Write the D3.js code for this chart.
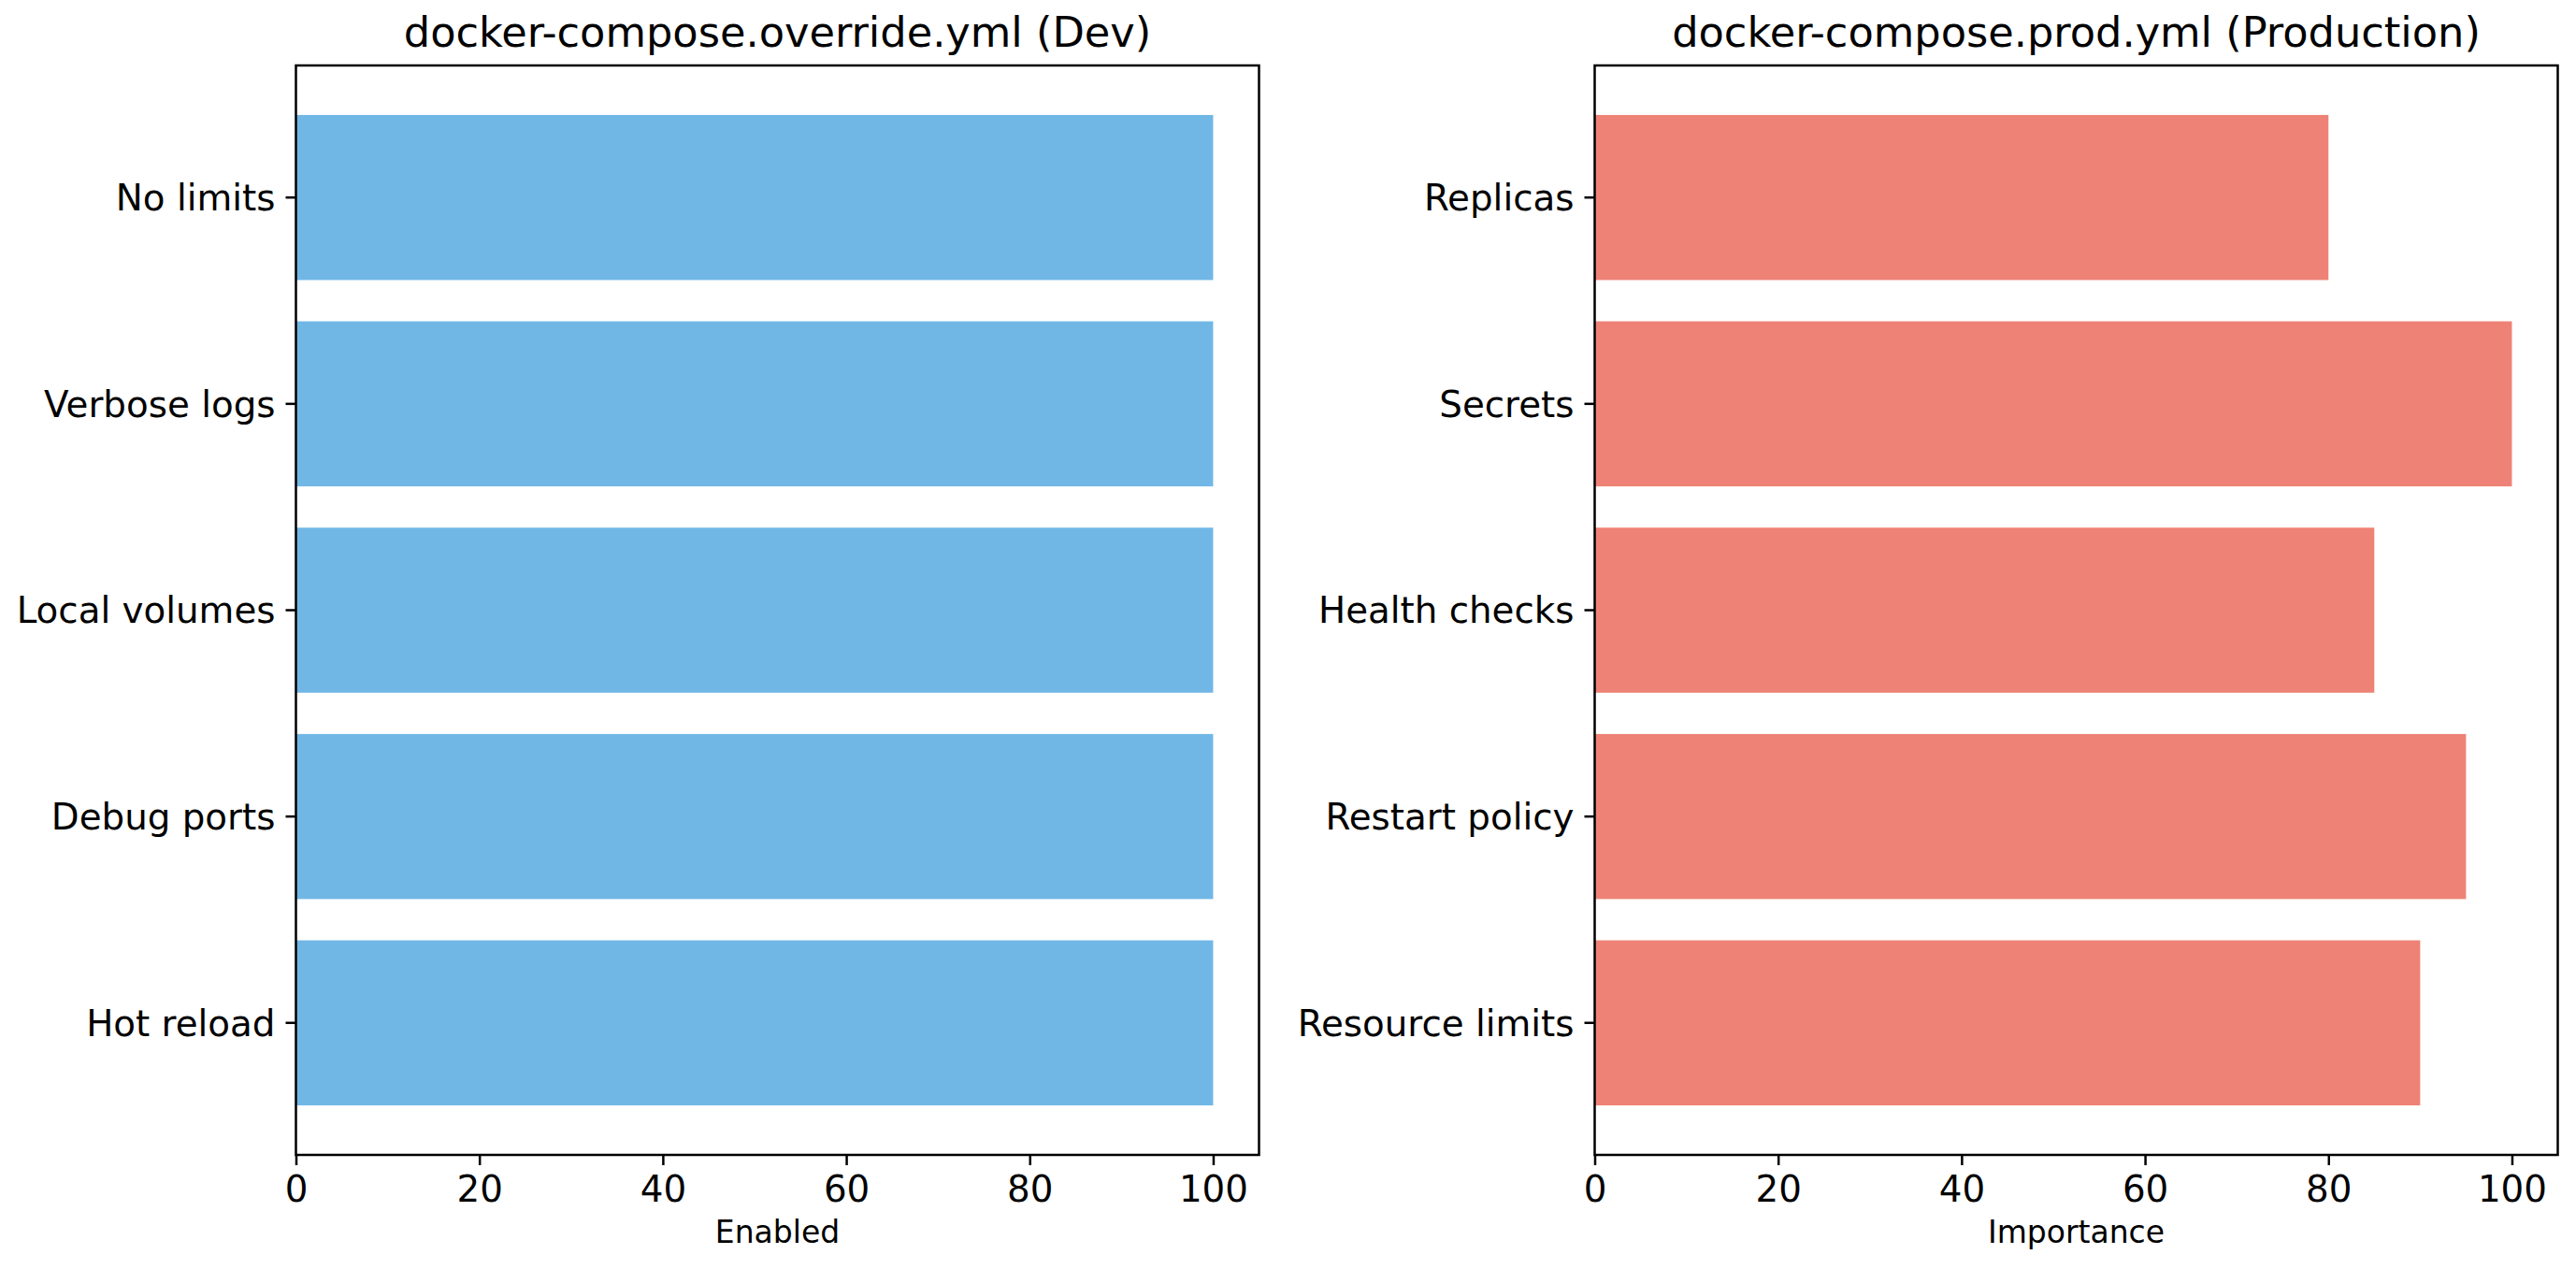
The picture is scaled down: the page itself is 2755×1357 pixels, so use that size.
<!DOCTYPE html>
<html>
<head>
<meta charset="utf-8">
<script src="https://cdn.jsdelivr.net/npm/d3@7"></script>
<style>
  html, body { margin: 0; padding: 0; background: #fff; }
  svg { display: block; }
  text { font-family: "DejaVu Sans", sans-serif; fill: #000; }
</style>
</head>
<body>
<svg id="chart" width="2755" height="1357"></svg>
<script>
// ---- data ----
const devCategories = ["Hot reload", "Debug ports", "Local volumes", "Verbose logs", "No limits"];
const devValues = [100, 100, 100, 100, 100];
const prodCategories = ["Resource limits", "Restart policy", "Health checks", "Secrets", "Replicas"];
const prodValues = [90, 95, 85, 100, 80];
const xTicks = [0, 20, 40, 60, 80, 100];
const titles = ["docker-compose.override.yml (Dev)", "docker-compose.prod.yml (Production)"];
const xLabels = ["Enabled", "Importance"];
const colors = ["#71b7e6", "#ee8276"];

// ---- layout ----
const svg = d3.select("#chart");
const plotTop = 70, plotBottom = 1235;
const panels = [
  { x0: 316.5, x1: 1346.5, cats: devCategories, vals: devValues, title: titles[0], xlabel: xLabels[0], color: colors[0] },
  { x0: 1705.5, x1: 2735.5, cats: prodCategories, vals: prodValues, title: titles[1], xlabel: xLabels[1], color: colors[1] }
];
const tickLen = 11, tickPad = 11, lw = 2.5;

panels.forEach(p => {
  const g = svg.append("g");
  const x = d3.scaleLinear().domain([0, 105]).range([p.x0, p.x1]);
  const order = p.cats.slice().reverse();
  const y = d3.scaleBand().domain(order).range([plotTop, plotBottom]).paddingInner(0.2).paddingOuter(0.24);

  const data = p.cats.map((c, i) => ({ c, v: p.vals[i] }));
  g.selectAll("rect.bar").data(data).join("rect")
    .attr("class", "bar")
    .attr("x", x(0))
    .attr("y", d => y(d.c))
    .attr("width", d => x(d.v) - x(0))
    .attr("height", y.bandwidth())
    .attr("fill", p.color);

  const xa = g.append("g").attr("transform", `translate(0,${plotBottom})`)
    .call(d3.axisBottom(x).tickValues(xTicks).tickSize(tickLen).tickPadding(tickPad).tickFormat(d3.format("d")));
  xa.select(".domain").remove();
  xa.selectAll(".tick line").attr("stroke", "#000").attr("stroke-width", lw);
  xa.selectAll(".tick text").attr("font-size", 38.8).attr("font-family", "DejaVu Sans").attr("dy", "0.71em");

  const ya = g.append("g").attr("transform", `translate(${p.x0},0)`)
    .call(d3.axisLeft(y).tickSize(tickLen).tickPadding(tickPad));
  ya.select(".domain").remove();
  ya.selectAll(".tick line").attr("stroke", "#000").attr("stroke-width", lw);
  ya.selectAll(".tick text").attr("font-size", 38.8).attr("font-family", "DejaVu Sans").attr("dy", "0.36em");

  g.append("rect")
    .attr("x", p.x0).attr("y", plotTop)
    .attr("width", p.x1 - p.x0).attr("height", plotBottom - plotTop)
    .attr("fill", "none").attr("stroke", "#000").attr("stroke-width", lw);

  g.append("text")
    .attr("x", (p.x0 + p.x1) / 2).attr("y", 50)
    .attr("text-anchor", "middle")
    .attr("font-size", 44.7)
    .text(p.title);

  g.append("text")
    .attr("x", (p.x0 + p.x1) / 2).attr("y", 1329)
    .attr("text-anchor", "middle")
    .attr("font-size", 33)
    .text(p.xlabel);
});
</script>
</body>
</html>
